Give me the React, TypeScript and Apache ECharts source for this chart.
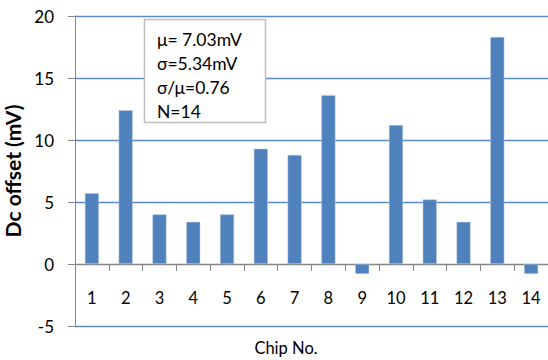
import React, { useEffect, useRef } from "react";
import * as echarts from "echarts";

const categories = ["1", "2", "3", "4", "5", "6", "7", "8", "9", "10", "11", "12", "13", "14"];
const offsets = [5.7, 12.4, 4.0, 3.4, 4.0, 9.3, 8.8, 13.6, -0.8, 11.2, 5.2, 3.4, 18.3, -0.8];
const yTicks = { min: -5, max: 20, interval: 5 };
const statLines = ["μ= 7.03mV", "σ=5.34mV", "σ/μ=0.76", "N=14"];
const yTitle = "Dc offset (mV)";
const xTitle = "Chip No.";

const FONT = "Lato, 'Open Sans', sans-serif";

export default function App() {
  const ref = useRef<HTMLDivElement>(null);
  useEffect(() => {
    if (!ref.current) return;
    const chart = echarts.init(ref.current, undefined, { renderer: "svg" });
    chart.setOption({
      animation: false,
      backgroundColor: "#ffffff",
      grid: { left: 75, right: 0, top: 16, bottom: 34, containLabel: false, outerBoundsMode: "none" },
      xAxis: {
        type: "category",
        data: categories,
        boundaryGap: true,
        axisLine: { onZero: true, lineStyle: { color: "#868686", width: 1 } },
        axisTick: { show: true, inside: false, length: 7, alignWithLabel: false, lineStyle: { color: "#868686" } },
        axisLabel: { margin: -37, color: "#000", fontSize: 16.5, fontFamily: FONT },
        splitLine: { show: false },
      },
      yAxis: {
        type: "value",
        min: yTicks.min,
        max: yTicks.max,
        interval: yTicks.interval,
        name: yTitle,
        nameLocation: "middle",
        nameGap: 45,
        nameRotate: 90,
        nameTextStyle: { color: "#000", fontSize: 21, fontWeight: "bold", fontFamily: FONT },
        axisLine: { show: true, lineStyle: { color: "#868686", width: 1 } },
        axisTick: { show: true, length: 7, lineStyle: { color: "#868686" } },
        axisLabel: { margin: 21, color: "#000", fontSize: 17, fontFamily: FONT },
        splitLine: { show: true, lineStyle: { color: "#5b8bc6", width: 1.3 } },
      },
      series: [
        {
          type: "bar",
          data: offsets,
          barWidth: 14,
          itemStyle: { color: "#4f81bd", borderColor: "#b9cde5", borderWidth: 0.5 },
        },
      ],
      graphic: [
        {
          type: "rect",
          shape: { x: 144.5, y: 19.5, width: 121, height: 103 },
          style: { fill: "#ffffff", stroke: "#bfbfbf", lineWidth: 1.5 },
          z: 100,
        },
        ...statLines.map((t, i) => ({
          type: "text",
          x: 157,
          y: 39 + i * 24.3,
          style: { text: t, fill: "#000", fontSize: 17.5, fontFamily: FONT, textVerticalAlign: "middle", textAlign: "left" },
          z: 101,
        })),
        {
          type: "text",
          x: 286,
          y: 348,
          style: { text: xTitle, fill: "#000", fontSize: 16.5, fontFamily: FONT, textAlign: "center", textVerticalAlign: "middle" },
          z: 101,
        },
      ],
    });
    return () => chart.dispose();
  }, []);
  return <div ref={ref} style={{ width: 548, height: 360, position: "absolute", left: 0, top: 0 }} />;
}
